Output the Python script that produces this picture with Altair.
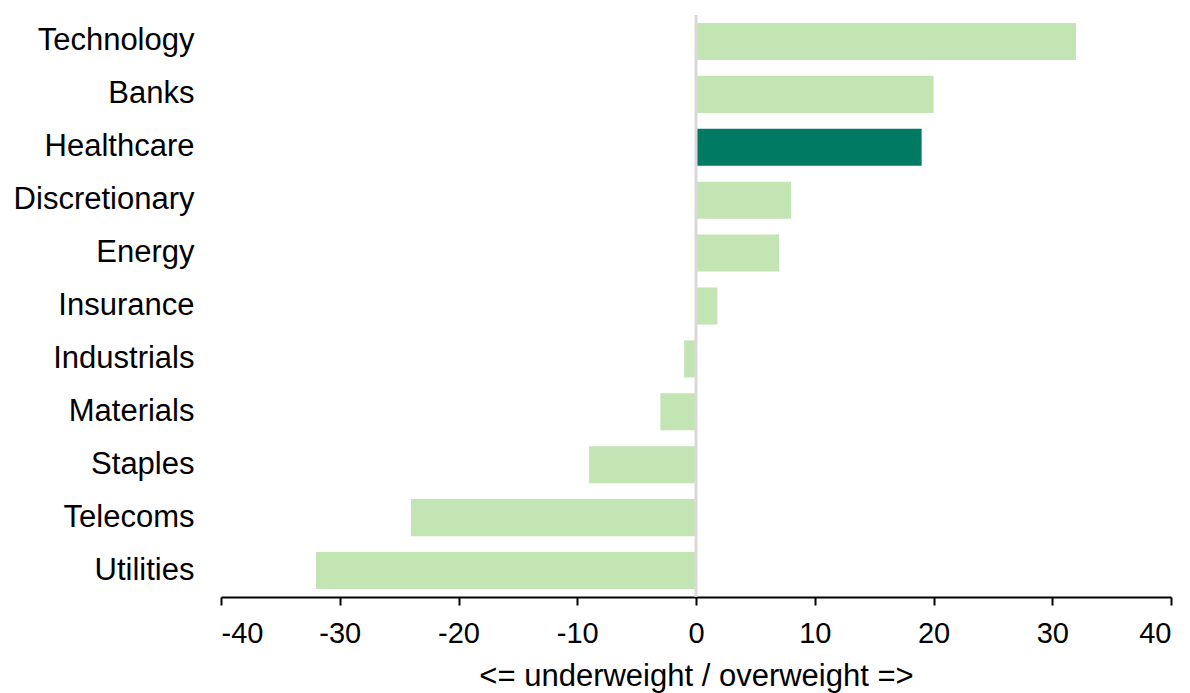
import altair as alt
import pandas as pd

sectors = ["Technology", "Banks", "Healthcare", "Discretionary", "Energy", "Insurance",
           "Industrials", "Materials", "Staples", "Telecoms", "Utilities"]
values = [32, 20, 19, 8, 7, 1.8, -1, -3, -9, -24, -32]
highlight = ["no", "no", "yes", "no", "no", "no", "no", "no", "no", "no", "no"]
ticks = [-40, -30, -20, -10, 0, 10, 20, 30, 40]

df = pd.DataFrame({"sector": sectors, "value": values, "hl": highlight})
FONT = "Liberation Sans"

bars = alt.Chart(df).mark_bar().encode(
    y=alt.Y("sector:N", sort=sectors,
            scale=alt.Scale(paddingInner=0.3, paddingOuter=0.15),
            axis=alt.Axis(title=None, domain=False, ticks=False, labelPadding=27,
                          labelLimit=400,
                          labelFont=FONT, labelFontSize=31, labelColor="black")),
    x=alt.X("value:Q", scale=alt.Scale(domain=[-40, 40], nice=False),
            axis=alt.Axis(title="<= underweight / overweight =>", values=ticks,
                          labelExpr="'' + datum.value",
                          grid=False, domainColor="black", domainWidth=2, tickColor="black",
                          tickWidth=2, tickSize=8, labelFont=FONT, labelFontSize=29,
                          labelColor="black", labelPadding=14, titleFont=FONT,
                          titleFontSize=31, titleFontWeight="normal", titleColor="black",
                          titlePadding=13)),
    color=alt.Color("hl:N", scale=alt.Scale(domain=["no", "yes"], range=["#c3e4b3", "#007a63"]),
                    legend=None),
)

zero = alt.Chart(pd.DataFrame({"z": [0]})).mark_rule(color="#d9d9d9", strokeWidth=3).encode(x="z:Q")

chart = (bars + zero).properties(width=950, height=582).configure_view(stroke=None)
chart.save("out.html", embed_options={"renderer": "svg", "actions": False})
